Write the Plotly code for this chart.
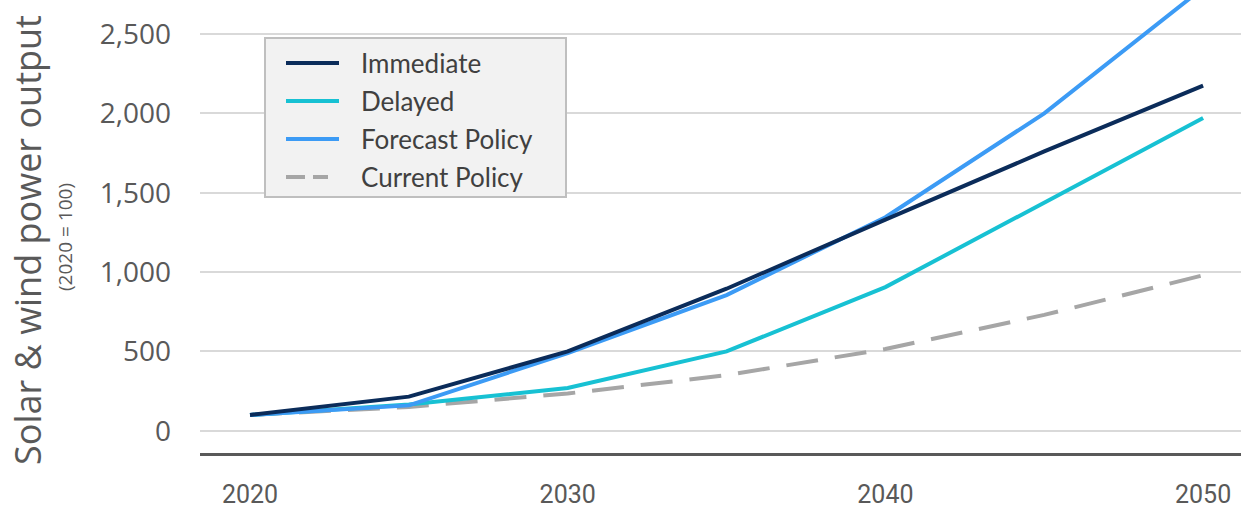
import plotly.graph_objects as go

# Solar & wind power output index (2020 = 100) by scenario
years = [2020, 2025, 2030, 2035, 2040, 2045, 2050]
immediate = [100, 215, 500, 895, 1330, 1760, 2175]
delayed = [100, 165, 270, 500, 905, 1440, 1970]
forecast_policy = [100, 160, 490, 855, 1345, 2000, 2790]
current_policy = [100, 150, 235, 350, 515, 730, 980]

x_ticks = [2020, 2030, 2040, 2050]
y_ticks = [0, 500, 1000, 1500, 2000, 2500]
y_tick_text = ["0", "500", "1,000", "1,500", "2,000", "2,500"]

W, H = 1241, 512
ML, MR, MT, MB = 200, 0, 0, 59
PW, PH = W - ML - MR, H - MT - MB

series = [
    ("Immediate", immediate, dict(color="#0b2c5a", width=4)),
    ("Delayed", delayed, dict(color="#17c1d3", width=4)),
    ("Forecast Policy", forecast_policy, dict(color="#3c9bf5", width=4)),
    ("Current Policy", current_policy, dict(color="#a6a6a6", width=4, dash="32px,17px")),
]

fig = go.Figure()
# draw the dashed baseline first so solid lines sit on top
for name, vals, line in [series[3], series[1], series[2], series[0]]:
    fig.add_trace(go.Scatter(x=years, y=vals, mode="lines", name=name,
                             line=line, showlegend=False, hoverinfo="x+y+name"))


def px_x(px):
    return (px - ML) / PW


def px_y(py):
    return 1 - (py - MT) / PH


shapes = []
annotations = []

# legend panel
shapes.append(dict(type="rect", xref="paper", yref="paper",
                   x0=px_x(265), x1=px_x(566), y0=px_y(197), y1=px_y(38),
                   fillcolor="#f2f2f2", line=dict(color="#bfbfbf", width=2), layer="above"))
for i, (name, _, line) in enumerate(series):
    yy = px_y(63 + 38 * i)
    ln = dict(color=line["color"], width=4)
    x_end = 339
    if "dash" in line:
        ln["dash"] = "19px,8px"
        x_end = 328
    shapes.append(dict(type="line", xref="paper", yref="paper",
                       x0=px_x(286), x1=px_x(x_end), y0=yy, y1=yy, line=ln, layer="above"))
    annotations.append(dict(text=name, xref="paper", yref="paper", x=px_x(359), y=yy,
                            xanchor="left", yanchor="middle", showarrow=False,
                            font=dict(family="Lato", size=26, color="#404040")))

# axis titles
annotations.append(dict(text="Solar & wind power output", xref="paper", yref="paper",
                        x=px_x(27), y=px_y(240), textangle=-90, showarrow=False,
                        xanchor="center", yanchor="middle",
                        font=dict(family="Open Sans", size=36, color="#595959")))
annotations.append(dict(text="(2020 = 100)", xref="paper", yref="paper",
                        x=px_x(65), y=px_y(237), textangle=-90, showarrow=False,
                        xanchor="center", yanchor="middle",
                        font=dict(family="Open Sans", size=19, color="#595959")))

fig.update_layout(
    width=W, height=H,
    margin=dict(l=ML, r=MR, t=MT, b=MB, pad=0, autoexpand=False),
    paper_bgcolor="white", plot_bgcolor="white",
    shapes=shapes, annotations=annotations,
    showlegend=False,
)
fig.update_xaxes(
    range=[2018.426, 2051.193], tickvals=x_ticks, ticktext=[str(v) for v in x_ticks],
    showgrid=False, zeroline=False, showline=True, linecolor="#595959", linewidth=3,
    ticks="", ticklabelstandoff=17, automargin=False,
    tickfont=dict(family="Roboto", size=25, color="#595959"),
)
fig.update_yaxes(
    range=[-140, 2714], tickvals=y_ticks, ticktext=y_tick_text,
    showgrid=True, gridcolor="#d9d9d9", gridwidth=2, zeroline=False, showline=False,
    ticks="", ticklabelstandoff=28, automargin=False,
    tickfont=dict(family="Open Sans", size=28, color="#595959"),
)

fig.write_html("out.html")
